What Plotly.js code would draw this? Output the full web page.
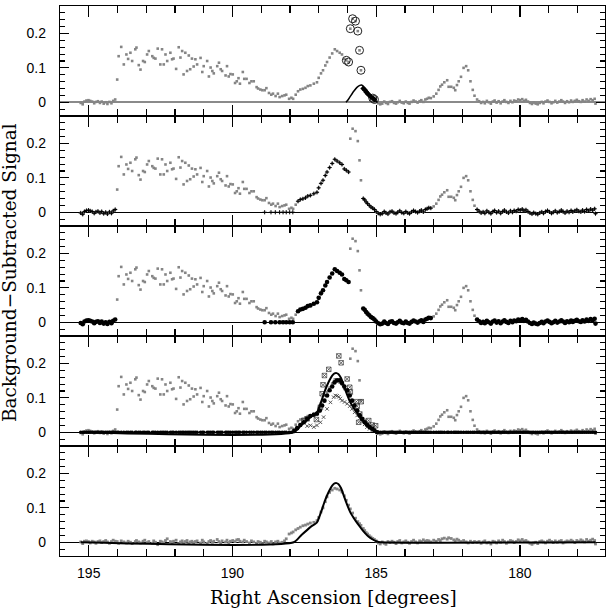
<!DOCTYPE html>
<html>
<head>
<meta charset="utf-8">
<script src="https://cdn.plot.ly/plotly-3.0.1.min.js"></script>
<style>html,body{margin:0;padding:0;background:#fff}</style>
</head>
<body>
<div id="chart" style="width:610px;height:609px"></div>
<script>
// Right ascension of each sample (degrees) and the background-subtracted signal.
const ra = [
  // west baseline
  195.28,195.21,195.15,195.08,195.01,194.95,194.88,194.81,194.75,194.68,
  194.61,194.55,194.48,194.41,194.35,194.28,194.21,194.15,194.08,
  // extended emission
  194.01,193.96,193.87,193.78,193.69,193.63,193.55,193.49,193.38,193.34,
  193.26,193.20,193.11,193.05,192.97,192.91,192.79,192.74,192.68,192.60,
  192.51,192.45,192.39,192.33,192.27,192.16,192.10,192.05,191.96,191.87,
  191.81,191.75,191.70,191.64,191.58,191.52,191.47,191.41,191.35,191.29,
  191.23,191.11,191.05,191.00,190.88,190.82,190.76,190.70,190.65,190.53,
  190.47,190.41,190.36,190.24,190.19,190.13,190.07,189.99,189.91,189.85,
  189.79,189.74,189.64,189.59,189.51,189.41,189.34,189.26,189.16,189.11,
  189.03,188.96,188.88,188.82,188.73,188.65,188.59,188.50,188.42,188.36,
  188.27,188.19,188.13,188.03,187.95,187.89,187.80,187.72,187.64,187.55,
  187.46,187.38,
  // main source
  187.29,187.17,187.06,187.00,186.92,186.85,186.77,186.71,186.62,186.53,
  186.44,186.36,186.27,186.19,186.11,186.04,185.96,185.90,185.82,185.72,
  185.64,185.58,185.53,185.45,185.40,185.35,185.30,185.24,185.18,185.12,
  185.06,185.00,
  // central baseline
  184.93,184.86,184.79,184.72,184.66,184.59,184.52,184.45,184.38,184.31,
  184.25,184.18,184.11,184.04,183.97,183.90,183.84,183.77,183.70,183.63,
  183.56,183.49,183.43,183.36,183.29,183.23,
  // secondary bump
  183.17,183.10,183.00,182.91,182.83,182.77,182.71,182.63,182.53,182.48,
  182.39,182.30,182.25,182.19,182.13,182.05,181.96,181.87,181.80,181.72,
  181.64,181.58,181.49,
  // east baseline
  181.42,181.35,181.28,181.22,181.15,181.08,181.01,180.94,180.88,180.81,
  180.74,180.67,180.60,180.54,180.47,180.40,180.33,180.26,180.20,180.13,
  180.06,179.99,179.92,179.86,179.79,179.72,179.65,179.58,179.52,179.45,
  179.38,179.31,179.24,179.18,179.11,179.04,178.97,178.90,178.84,178.77,
  178.70,178.63,178.56,178.50,178.43,178.36,178.29,178.22,178.16,178.09,
  178.02,177.95,177.88,177.82,177.75,177.68,177.61,177.54,177.47,177.40,
  177.37
];
const signal = [
  -0.002,-0.006,0.002,0.005,0.006,0.004,0.002,-0.003,0.001,0.003,
  -0.002,0.002,-0.004,0.000,-0.005,0.001,-0.003,0.004,0.008,
  0.066,0.134,0.161,0.110,0.139,0.126,0.144,0.120,0.154,0.159,
  0.108,0.095,0.120,0.117,0.139,0.149,0.134,0.129,0.127,0.156,
  0.110,0.154,0.110,0.139,0.120,0.144,0.125,0.127,0.097,0.160,
  0.130,0.149,0.081,0.144,0.091,0.136,0.096,0.127,0.104,0.125,
  0.110,0.129,0.088,0.105,0.120,0.075,0.101,0.091,0.084,0.105,
  0.115,0.096,0.091,0.078,0.105,0.075,0.082,0.081,0.056,0.061,
  0.070,0.054,0.088,0.068,0.068,0.056,0.061,0.061,0.044,0.040,
  0.037,0.035,0.035,0.041,0.027,0.022,0.025,0.018,0.025,0.015,
  0.018,0.020,0.022,0.010,0.013,0.010,0.022,0.032,0.037,0.039,
  0.042,0.047,
  0.049,0.054,0.058,0.071,0.084,0.093,0.107,0.117,0.130,0.142,
  0.154,0.149,0.144,0.139,0.126,0.122,0.117,0.214,0.243,0.236,
  0.207,0.151,0.093,0.040,0.036,0.030,0.025,0.020,0.015,0.012,
  0.008,0.002,
  -0.003,-0.006,-0.004,0.002,-0.002,-0.005,0.001,0.003,-0.002,-0.004,
  0.000,0.004,-0.001,-0.003,0.002,-0.002,-0.004,0.001,0.005,0.002,
  -0.001,0.003,0.006,0.001,0.008,0.010,
  0.013,0.012,0.017,0.025,0.036,0.046,0.051,0.058,0.064,0.045,
  0.045,0.042,0.035,0.050,0.061,0.074,0.100,0.105,0.093,0.061,
  0.036,0.019,0.008,
  0.003,-0.002,0.001,-0.003,0.004,0.000,-0.004,0.002,0.005,-0.001,
  0.003,-0.003,0.002,0.006,0.001,-0.002,0.004,0.000,0.005,0.003,
  0.008,0.006,0.009,0.004,0.007,0.002,-0.002,-0.005,-0.001,-0.004,
  -0.006,-0.002,0.001,-0.003,0.002,0.005,0.001,-0.003,0.000,0.004,
  -0.001,0.002,0.006,0.002,-0.002,0.003,0.000,0.005,0.001,0.004,
  0.007,0.003,0.001,0.006,0.002,0.008,0.004,0.009,0.006,0.010,
  -0.004
];
// Signal left after removing the other fitted components (bottom panel).
const residual = [
  0.001,-0.004,0.003,0.004,0.002,-0.002,0.003,0.001,-0.003,0.002,
  0.004,-0.001,0.002,0.005,0.001,-0.003,0.002,0.006,0.003,
  0.002,-0.003,0.004,0.001,-0.002,0.003,0.000,-0.004,0.002,0.005,
  0.001,-0.002,0.003,0.006,-0.001,0.002,-0.003,0.004,0.000,-0.007,
  0.003,0.001,-0.002,0.005,0.010,0.002,-0.001,0.003,0.006,-0.004,
  0.001,0.004,-0.002,0.002,0.005,-0.003,0.001,0.003,-0.001,0.002,
  0.004,-0.002,0.006,0.001,-0.003,0.002,0.005,0.000,0.003,0.008,
  0.002,-0.002,0.004,0.001,0.006,-0.001,0.003,0.005,0.002,0.007,
  0.008,0.003,0.001,0.006,0.002,-0.002,0.004,0.001,-0.003,0.002,
  0.000,-0.004,0.003,0.001,-0.002,0.002,-0.005,0.001,0.003,-0.002,
  0.000,0.004,0.010,0.024,0.027,0.030,0.036,0.040,0.044,0.048,
  0.050,0.053,
  0.056,0.058,0.063,0.072,0.088,0.100,0.118,0.132,0.145,0.152,
  0.157,0.155,0.152,0.146,0.135,0.122,0.108,0.097,0.085,0.070,
  0.060,0.054,0.049,0.040,0.034,0.028,0.024,0.019,0.015,0.011,
  0.008,0.004,
  -0.002,-0.005,0.001,-0.003,-0.006,0.002,-0.001,0.003,0.000,-0.004,
  0.002,0.005,-0.002,0.001,0.004,0.000,-0.003,0.002,0.006,0.001,
  -0.002,0.004,0.002,0.007,0.003,0.005,
  0.004,0.001,0.006,0.003,0.008,0.005,0.010,0.012,0.009,0.013,
  0.011,0.007,0.004,0.009,0.006,0.002,0.005,0.001,-0.002,0.003,
  -0.001,0.002,0.000,
  0.002,-0.003,0.001,0.004,-0.002,0.000,-0.005,0.003,0.001,-0.002,
  0.004,0.000,0.006,0.002,-0.003,0.001,0.005,0.003,-0.001,0.002,
  0.007,0.004,0.008,0.003,0.005,0.001,-0.003,-0.006,-0.002,0.000,
  -0.004,0.002,0.004,0.001,-0.002,0.003,0.006,0.002,-0.001,0.004,
  0.000,0.003,0.005,-0.002,0.001,0.004,0.002,0.006,0.003,-0.001,
  0.005,0.002,0.007,0.004,0.001,0.008,0.003,0.006,0.009,0.005,
  -0.005
];

// RA windows (high, low) of the samples used in the fit.
const fitWindows = [[195.3, 194.05], [187.72, 185.94], [185.47, 183.05], [181.5, 177.3]];
// Background samples forced to zero.
const maskedRA = [188.88, 188.66, 188.51, 188.36, 188.24, 188.13, 188.01, 187.90];
// Samples flagged in the top panel.
const flaggedRA = [186.04, 185.96, 185.90, 185.82, 185.72, 185.64, 185.58, 185.53, 185.12, 185.06];
// Window of the highlighted samples on the top-panel profile.
const profileWindow = [185.47, 185.03];

// Single-component profile (top panel).
const profileRA  = [186.05,185.97,185.90,185.78,185.66,185.57,185.51,185.43,185.35,185.25,185.15,185.06,184.97];
const profileVal = [0.000,0.008,0.017,0.032,0.044,0.049,0.050,0.045,0.037,0.027,0.017,0.008,0.000];

// Total model (panels 4 and 5).
const modelRA  = [195.28,187.87,187.60,187.29,187.06,186.97,186.88,186.80,186.71,186.62,186.53,186.45,186.38,
                  186.31,186.22,186.13,186.02,185.90,185.80,185.72,185.60,185.49,185.38,185.26,185.12,184.97,184.85,177.37];
const modelVal = [0.000,0.000,0.021,0.044,0.058,0.076,0.097,0.117,0.136,0.152,0.165,0.171,0.172,
                  0.169,0.157,0.136,0.111,0.087,0.073,0.063,0.049,0.037,0.026,0.016,0.008,0.002,0.000,0.000];

// Fitted samples along the source (panel 4).
const fitRA  = [187.85,187.75,187.64,187.52,187.40,187.29,187.17,187.06,186.96,186.88,186.80,186.71,186.62,186.53,
                186.45,186.36,186.27,186.19,186.11,186.01,185.92,185.84,185.76,185.66,185.57,185.49,185.40,185.32,
                185.23,185.14,185.06,184.97];
const fitVal = [0.004,0.012,0.021,0.029,0.039,0.047,0.051,0.054,0.063,0.078,0.092,0.107,0.122,0.133,
                0.145,0.151,0.151,0.143,0.133,0.122,0.107,0.092,0.078,0.063,0.049,0.039,0.029,0.022,
                0.015,0.010,0.005,0.000];

// Individual scans (panel 4).
const scanARA  = [187.52,187.40,187.08,186.94,186.88,186.85,186.80,186.65,186.30,186.22,186.01,185.92,185.90,
                  185.69,185.66,185.61,185.57,185.52,185.26,185.14,185.02];
const scanAVal = [0.034,0.039,0.037,0.073,0.112,0.138,0.165,0.183,0.222,0.202,0.155,0.131,0.117,
                  0.089,0.076,0.029,0.053,0.089,0.034,0.021,0.019];
const scanBRA  = [187.40,187.29,187.17,187.06,186.94,186.83,186.71,186.59,186.48,186.42,186.36,186.30,186.25,
                  186.19,186.10,186.01,185.92,185.84,185.75,185.66,185.57,185.49,185.40,185.32,185.23,185.14];
const scanBVal = [0.018,0.020,0.015,0.020,0.029,0.044,0.068,0.087,0.102,0.107,0.106,0.103,0.098,
                  0.092,0.088,0.083,0.076,0.068,0.058,0.049,0.040,0.032,0.023,0.015,0.010,0.005];

const baselineCut = [187.9, 184.97];

// ---------------------------------------------------------------------------
const GREY = '#858585';
const inWin = (x, w) => x <= w[0] && x >= w[1];
const fitIdx = ra.map((x, i) => i).filter(i => fitWindows.some(w => inWin(ra[i], w)));
const flagIdx = flaggedRA.map(f => ra.findIndex(x => Math.abs(x - f) < 1e-6));
const profIdx = ra.map((x, i) => i).filter(i => inWin(ra[i], profileWindow));
const baseIdx = ra.map((x, i) => i).filter(i => !inWin(ra[i], baselineCut));
const pick = (arr, idx) => idx.map(i => arr[i]);

function pts(x, y, ax, marker) {
  return {type: 'scatter', mode: 'markers', x: x, y: y, xaxis: 'x' + ax, yaxis: 'y' + ax,
          marker: marker, hoverinfo: 'skip', showlegend: false, cliponaxis: true};
}
function line(x, y, ax, width) {
  return {type: 'scatter', mode: 'lines', x: x, y: y, xaxis: 'x' + ax, yaxis: 'y' + ax,
          line: {color: '#000', width: width, shape: 'spline', smoothing: 0.6},
          hoverinfo: 'skip', showlegend: false};
}
const greyDots = {symbol: 'square', size: 2.6, color: GREY, line: {width: 0}};

// axis suffixes: '' bottom panel ... '5' top panel
const traces = [];
['5', '4', '3', '2'].forEach(ax => traces.push(pts(ra, signal, ax, greyDots)));

// panel 1 (top): flagged samples and single profile
traces.push(pts(pick(ra, flagIdx), pick(signal, flagIdx), '5',
  {symbol: 'circle-open', size: 8, color: '#222', line: {width: 1, color: '#222'}}));
traces.push(line(profileRA, profileVal, '5', 1.5));
traces.push(pts(pick(ra, profIdx), pick(signal, profIdx), '5',
  {symbol: 'diamond', size: 4.5, color: '#000'}));

// panel 2: samples used in the fit, small marks
const fitX = pick(ra, fitIdx).concat(maskedRA);
const fitY = pick(signal, fitIdx).concat(maskedRA.map(() => 0));
traces.push(pts(fitX, fitY, '4',
  {symbol: 'cross-thin-open', size: 3, color: '#000', line: {width: 1, color: '#000'}}));

// panel 3: same samples, filled
traces.push(pts(fitX, fitY, '3', {symbol: 'circle', size: 4.6, color: '#000'}));

// panel 4: baseline, scans, fitted samples and total model
traces.push(pts(pick(ra, baseIdx), baseIdx.map(() => 0), '2', {symbol: 'circle', size: 3.6, color: '#000'}));
traces.push(pts(scanBRA, scanBVal, '2',
  {symbol: 'x-thin-open', size: 3.5, color: '#444', line: {width: 0.9, color: '#444'}}));
traces.push(pts(scanARA, scanAVal, '2',
  {symbol: 'square-x-open', size: 4.5, color: '#333', line: {width: 0.7, color: '#333'}}));
traces.push(pts(fitRA, fitVal, '2', {symbol: 'circle', size: 4.6, color: '#000'}));
traces.push(line(modelRA, modelVal, '2', 2));

// panel 5 (bottom): residual signal and model
traces.push(pts(ra, residual, '', {symbol: 'square', size: 2.8, color: GREY}));
traces.push(line(modelRA, modelVal, '', 2));

// ---------------------------------------------------------------------------
const tickFont = {family: '"Liberation Sans", Arial, sans-serif', size: 14, color: '#000'};
const titleFont = {family: '"DejaVu Serif", serif', size: 18.5, color: '#000'};

function xAxis(n, labels) {
  const a = {
    range: [196.0, 177.04], autorange: false, domain: [0, 1],
    showline: true, linecolor: '#000', linewidth: 1.2, mirror: 'allticks',
    ticks: 'inside', ticklen: 11, tickwidth: 1.2, tickcolor: '#000',
    tickmode: 'linear', tick0: 0, dtick: 5,
    minor: {tickmode: 'linear', tick0: 0, dtick: 1, ticks: 'inside', ticklen: 7, tickwidth: 1.2, tickcolor: '#000'},
    showgrid: false, zeroline: false, showticklabels: labels,
    tickfont: tickFont, ticklabelstandoff: 4,
    anchor: 'y' + n
  };
  if (n !== '') a.matches = 'x';
  return a;
}
function yAxis(n, dom, zc, zw) {
  return {
    range: [-0.04, 0.28], autorange: false, domain: dom,
    showline: true, linecolor: '#000', linewidth: 1.2, mirror: 'allticks',
    ticks: 'inside', ticklen: 9, tickwidth: 1.2, tickcolor: '#000',
    tickmode: 'linear', tick0: 0, dtick: 0.1,
    minor: {tickmode: 'linear', tick0: 0, dtick: 0.02, ticks: 'inside', ticklen: 5, tickwidth: 1.2, tickcolor: '#000'},
    showgrid: false, zeroline: true, zerolinecolor: zc, zerolinewidth: zw,
    tickfont: tickFont, ticklabelstandoff: 10,
    anchor: 'x' + n
  };
}

const layout = {
  width: 610, height: 609,
  margin: {l: 60, r: 5, t: 6, b: 53},
  paper_bgcolor: '#fff', plot_bgcolor: '#fff',
  showlegend: false,
  xaxis: xAxis('', true), yaxis: yAxis('', [0, 0.2], '#000', 1),
  xaxis2: xAxis('2', false), yaxis2: yAxis('2', [0.2, 0.4], '#000', 1),
  xaxis3: xAxis('3', false), yaxis3: yAxis('3', [0.4, 0.6], '#000', 1),
  xaxis4: xAxis('4', false), yaxis4: yAxis('4', [0.6, 0.8], '#000', 1),
  xaxis5: xAxis('5', false), yaxis5: yAxis('5', [0.8, 1.0], '#8a8a8a', 2),
  annotations: [
    {text: 'Right Ascension [degrees]', xref: 'paper', yref: 'paper', x: 0.502, y: -0.076,
     xanchor: 'center', yanchor: 'middle', showarrow: false, font: titleFont},
    {text: 'Background\u2212Subtracted Signal', xref: 'paper', yref: 'paper', x: -0.093, y: 0.515,
     xanchor: 'center', yanchor: 'middle', textangle: -90, showarrow: false, font: titleFont}
  ]
};

Plotly.newPlot('chart', traces, layout, {staticPlot: true, displayModeBar: false});
</script>
</body>
</html>
